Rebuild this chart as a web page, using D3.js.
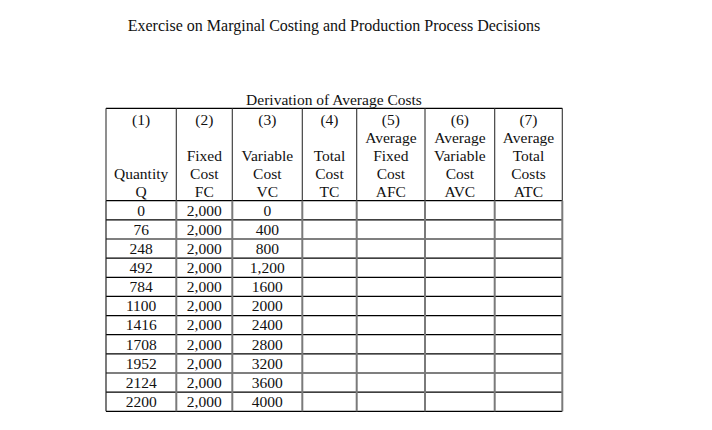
<!DOCTYPE html>
<html><head><meta charset="utf-8">
<script src="https://cdn.jsdelivr.net/npm/d3@7"></script>
<style>body{margin:0;background:#fff}svg{display:block}text{font-family:"Liberation Serif","Times New Roman",serif;fill:#111}</style>
</head><body><svg id="c" width="712" height="430"></svg>
<script>
const title = "Exercise on Marginal Costing and Production Process Decisions";
const subtitle = "Derivation of Average Costs";
const colNumbers = ["(1)","(2)","(3)","(4)","(5)","(6)","(7)"];
const headerLines = [
  ["", "", "", "Quantity", "Q"],
  ["", "", "Fixed", "Cost", "FC"],
  ["", "", "Variable", "Cost", "VC"],
  ["", "", "Total", "Cost", "TC"],
  ["", "Average", "Fixed", "Cost", "AFC"],
  ["", "Average", "Variable", "Cost", "AVC"],
  ["", "Average", "Total", "Costs", "ATC"]
];
const quantity = ["0","76","248","492","784","1100","1416","1708","1952","2124","2200"];
const fixedCost = ["2,000","2,000","2,000","2,000","2,000","2,000","2,000","2,000","2,000","2,000","2,000"];
const variableCost = ["0","400","800","1,200","1600","2000","2400","2800","3200","3600","4000"];

const svg = d3.select("#c");
const colEdges = [106,176.3,232.3,302.3,356.7,425,494.7,562.3];
const tableTop = 108.3, headBottom = 200.7, tableBottom = 411.3;
const fs = 15.5;

svg.append("text").attr("x",334).attr("y",31).attr("text-anchor","middle")
  .style("font-size","16px").text(title);
svg.append("text").attr("x",334).attr("y",105).attr("text-anchor","middle")
  .style("font-size","15.5px").text(subtitle);

const y = d3.scaleBand().domain(d3.range(quantity.length)).range([headBottom,tableBottom]);
const cx = i => (colEdges[i]+colEdges[i+1])/2;

const hl = [tableTop, headBottom].concat(d3.range(1,quantity.length).map(i=>y(i))).concat([tableBottom]);
svg.selectAll("line.h").data(hl).join("line")
  .attr("x1",colEdges[0]).attr("x2",colEdges[7]).attr("y1",d=>d).attr("y2",d=>d)
  .attr("stroke","#000").attr("stroke-width",1.2);
svg.selectAll("line.vh").data(colEdges).join("line")
  .attr("x1",d=>d).attr("x2",d=>d).attr("y1",tableTop).attr("y2",headBottom)
  .attr("stroke","#333").attr("stroke-width",1.1);
svg.selectAll("line.vd").data(colEdges).join("line")
  .attr("x1",d=>d).attr("x2",d=>d).attr("y1",headBottom).attr("y2",tableBottom)
  .attr("stroke",(d,i)=>i===0?"#222":"#7a7a7a").attr("stroke-width",(d,i)=>i===0?1.2:2);

const hy = [125, 142.5, 160.5, 178.5, 196.5];
colNumbers.forEach((t,i)=>{
  svg.append("text").attr("x",cx(i)).attr("y",hy[0]).attr("text-anchor","middle").style("font-size",fs+"px").text(t);
  headerLines[i].forEach((l,j)=>{ if(l) svg.append("text").attr("x",cx(i)).attr("y",hy[j]).attr("text-anchor","middle").style("font-size",fs+"px").text(l); });
});

[quantity,fixedCost,variableCost].forEach((arr,ci)=>{
  svg.selectAll(null).data(arr).join("text")
    .attr("x",cx(ci)).attr("y",(d,i)=>y(i)+y.bandwidth()-4.3)
    .attr("text-anchor","middle").style("font-size","15.5px").text(d=>d);
});
</script></body></html>
